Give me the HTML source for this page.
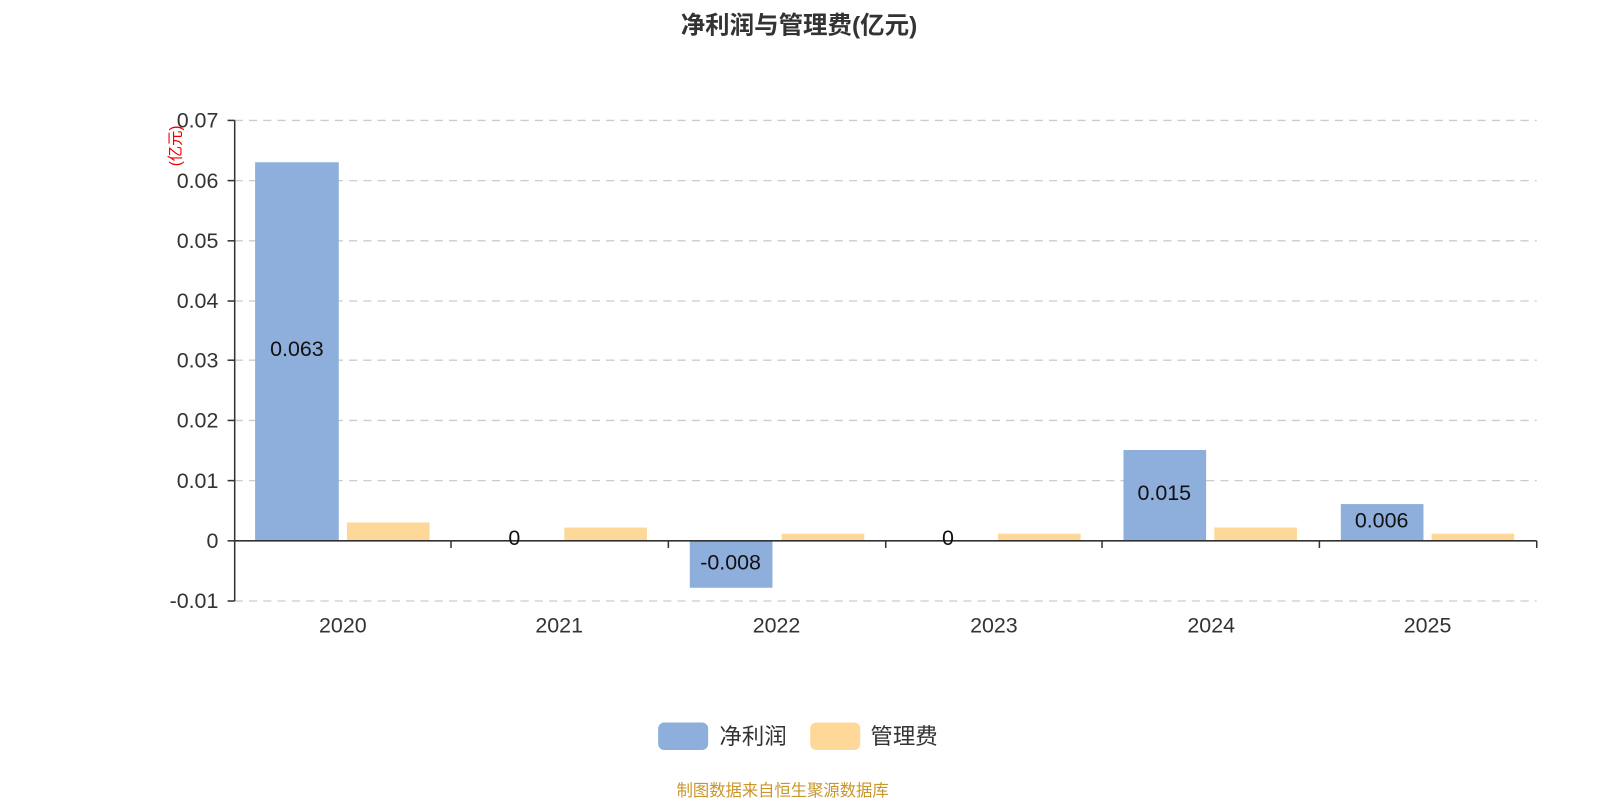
<!DOCTYPE html>
<html><head><meta charset="utf-8"><style>
body{margin:0;background:#fff;width:1600px;height:800px;overflow:hidden}
text{font-family:"Liberation Sans","Noto Sans CJK SC",sans-serif}
</style></head><body>
<svg width="1600" height="800" viewBox="0 0 1568 784" xmlns="http://www.w3.org/2000/svg">
<text x="783" y="33" text-anchor="middle" font-size="24" font-weight="bold" fill="#333">净利润与管理费(亿元)</text>
<g stroke="#ccc" stroke-dasharray="8,6" stroke-width="1.3">
<line x1="230" y1="118" x2="1506" y2="118"/><line x1="230" y1="177" x2="1506" y2="177"/>
<line x1="230" y1="236" x2="1506" y2="236"/><line x1="230" y1="295" x2="1506" y2="295"/>
<line x1="230" y1="353" x2="1506" y2="353"/><line x1="230" y1="412" x2="1506" y2="412"/>
<line x1="230" y1="471" x2="1506" y2="471"/><line x1="230" y1="589" x2="1506" y2="589"/>
</g>
<g font-size="21" fill="#333" text-anchor="end">
<text x="214" y="125">0.07</text><text x="214" y="184">0.06</text><text x="214" y="243">0.05</text>
<text x="214" y="302">0.04</text><text x="214" y="360">0.03</text><text x="214" y="419">0.02</text>
<text x="214" y="478">0.01</text><text x="214" y="537">0</text><text x="214" y="596">-0.01</text>
</g>
<text transform="translate(177,143) rotate(-90)" text-anchor="middle" font-size="15" fill="#e00">(亿元)</text>
<g fill="#8eaedb">
<rect x="250" y="159" width="82" height="371"/>
<rect x="676" y="530" width="81" height="46"/>
<rect x="1101" y="441" width="81" height="89"/>
<rect x="1314" y="494" width="81" height="36"/>
</g>
<g fill="#fdd898">
<rect x="340" y="512" width="81" height="18"/>
<rect x="553" y="517" width="81" height="13"/>
<rect x="766" y="523" width="81" height="7"/>
<rect x="978" y="523" width="81" height="7"/>
<rect x="1190" y="517" width="81" height="13"/>
<rect x="1403" y="523" width="81" height="7"/>
</g>
<g stroke="#333" stroke-width="1.5">
<line x1="230" y1="118" x2="230" y2="589"/><line x1="223" y1="118" x2="230" y2="118"/>
<line x1="223" y1="177" x2="230" y2="177"/><line x1="223" y1="236" x2="230" y2="236"/>
<line x1="223" y1="295" x2="230" y2="295"/><line x1="223" y1="353" x2="230" y2="353"/>
<line x1="223" y1="412" x2="230" y2="412"/><line x1="223" y1="471" x2="230" y2="471"/>
<line x1="223" y1="530" x2="230" y2="530"/><line x1="223" y1="589" x2="230" y2="589"/>
<line x1="230" y1="530" x2="1506" y2="530"/>
<line x1="442" y1="530" x2="442" y2="537"/><line x1="655" y1="530" x2="655" y2="537"/>
<line x1="868" y1="530" x2="868" y2="537"/><line x1="1080" y1="530" x2="1080" y2="537"/>
<line x1="1293" y1="530" x2="1293" y2="537"/><line x1="1506" y1="530" x2="1506" y2="537"/>
</g>
<g font-size="21" fill="#111" text-anchor="middle">
<text x="291" y="349">0.063</text><text x="504" y="534">0</text><text x="716" y="558">-0.008</text>
<text x="929" y="534">0</text><text x="1141" y="490">0.015</text><text x="1354" y="517">0.006</text>
</g>
<g font-size="21" fill="#333" text-anchor="middle">
<text x="336" y="620">2020</text><text x="548" y="620">2021</text><text x="761" y="620">2022</text>
<text x="974" y="620">2023</text><text x="1187" y="620">2024</text><text x="1399" y="620">2025</text>
</g>
<rect x="645" y="708" width="49" height="27" rx="6" fill="#8eaedb"/>
<text x="705" y="729" font-size="22" fill="#333">净利润</text>
<rect x="794" y="708" width="49" height="27" rx="6" fill="#fdd898"/>
<text x="853" y="729" font-size="22" fill="#333">管理费</text>
<text x="767" y="780" text-anchor="middle" font-size="16" fill="#c8962a">制图数据来自恒生聚源数据库</text>
</svg>
</body></html>
